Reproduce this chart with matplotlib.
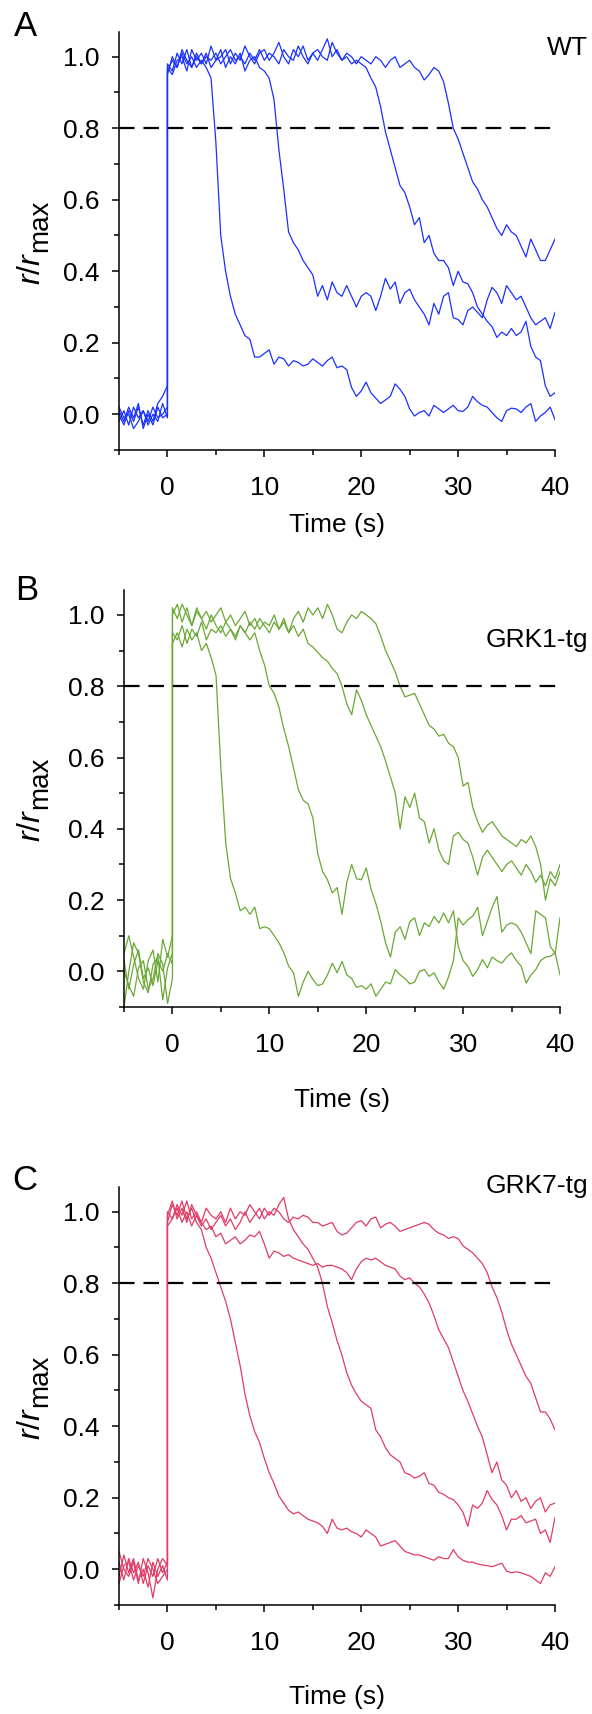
import numpy as np
import matplotlib
matplotlib.use("Agg")
import matplotlib.pyplot as plt
from matplotlib.ticker import MultipleLocator, FormatStrFormatter

plt.rcParams['font.family'] = ['Liberation Sans', 'DejaVu Sans']
plt.rcParams['mathtext.fontset'] = 'custom'
plt.rcParams['mathtext.rm'] = 'Liberation Sans'
plt.rcParams['mathtext.it'] = 'Liberation Sans:italic'

# sample times (s): baseline before the flash, response after it
t_pre = np.arange(-5, 0.01, 0.5)
t_post = np.arange(0, 40.01, 0.5)

# ---- panel A, WT (blue) ----
wt_pre = [
    [.01, -.02, .02, -.01, .03, -.04, .00, -.03, .02, -.01, .00],
    [-.02, .01, -.03, .02, -.01, .01, -.03, .00, -.02, .03, -.01],
    [.00, -.03, .01, -.02, .02, -.03, .01, -.02, .03, .05, .08],
    [.02, -.01, .00, -.04, -.02, .01, -.02, .02, -.01, .00, .02],
]
wt_1 = [.96, .99, .97, 1.01, .98, 1.00, .97, .99, .97, .94,
        .76, .50, .40, .33, .28, .25, .22, .21, .16, .16,
        .17, .18, .14, .16, .155, .135, .15, .145, .135, .14,
        .155, .145, .135, .15, .16, .13, .135, .125, .075, .05,
        .065, .09, .06, .045, .03, .04, .05, .085, .07, .05,
        .015, -.005, .005, .01, -.005, .025, .015, .005, .015, .025,
        .01, .008, .02, .05, .035, .025, .02, .005, -.01, -.02,
        .01, .017, .015, .005, .02, .03, -.02, -.005, .005, .02,
        -.015]
wt_2 = [.98, .96, 1.01, .98, 1.02, .97, 1.00, .98, 1.01, .97,
        .99, 1.02, .97, 1.00, .98, 1.01, .96, .99, 1.00, .97,
        .96, .94, .88, .74, .63, .51, .48, .46, .43, .41,
        .39, .33, .36, .32, .37, .34, .33, .36, .33, .30,
        .33, .34, .33, .29, .33, .38, .35, .37, .31, .34,
        .35, .32, .30, .28, .25, .31, .28, .33, .34, .27,
        .265, .25, .29, .30, .285, .27, .32, .355, .34, .31,
        .36, .34, .32, .33, .30, .27, .25, .26, .27, .24,
        .285]
wt_3 = [.95, 1.00, .97, 1.02, .99, .97, 1.01, .98, 1.00, .99,
        1.01, .98, 1.00, 1.02, .99, 1.00, .98, 1.01, .99, 1.02,
        .99, 1.01, 1.00, .98, 1.02, 1.00, .99, 1.03, 1.00, .98,
        1.01, 1.02, 1.00, .99, 1.04, 1.01, .99, 1.00, .98, .99,
        .98, .97, .94, .915, .86, .79, .74, .69, .64, .62,
        .58, .53, .55, .48, .50, .45, .43, .43, .41, .36,
        .40, .37, .365, .34, .30, .28, .26, .245, .215, .23,
        .22, .24, .22, .23, .26, .19, .16, .15, .08, .05,
        .06]
wt_4 = [.97, .95, .99, 1.00, .96, 1.02, .99, 1.01, .98, 1.03,
        .99, 1.00, 1.02, .98, 1.01, .99, 1.03, 1.00, .98, 1.01,
        1.02, .99, 1.01, 1.04, 1.00, .98, 1.02, 1.00, 1.03, .99,
        1.01, .99, 1.02, 1.05, 1.00, 1.02, .99, 1.01, 1.00, .98,
        1.00, .99, .98, 1.00, .99, .97, .99, 1.00, .97, .98,
        .99, .97, .96, .935, .95, .97, .96, .93, .87, .80,
        .77, .73, .69, .65, .63, .60, .58, .55, .52, .50,
        .53, .51, .50, .47, .44, .49, .46, .43, .43, .46,
        .49]

# ---- panel B, GRK1-tg (green) ----
grk1_pre = [
    [.03, -.05, .02, .06, -.02, .01, -.04, .03, .00, .05, .02],
    [-.10, .00, .08, .05, -.03, -.06, .02, .04, -.08, .01, .05],
    [.05, .10, .04, -.02, -.05, .03, .06, -.03, .09, .04, .10],
    [.00, -.04, -.07, .01, .03, -.05, -.02, .05, .02, -.09, -.02],
]
grk1_1 = [.92, .95, .91, .96, .93, .95, .90, .92, .88, .83,
          .57, .36, .26, .22, .17, .18, .16, .18, .12, .125,
          .12, .10, .08, .052, .014, -.004, -.07, -.03, .00, -.023,
          -.04, -.035, -.01, .023, -.004, .028, -.01, -.02, -.045, -.04,
          -.05, -.035, -.07, -.05, -.03, -.035, .005, -.01, -.02, -.035,
          -.03, .00, .005, -.014, -.004, -.03, -.05, -.015, .03, .15,
          .13, .145, .155, .18, .10, .14, .18, .21, .11, .13,
          .136, .13, .11, .08, .05, .17, .16, .15, .07, .05,
          .15]
grk1_2 = [.95, .93, .97, .92, .96, .94, .98, .93, .96, .95,
          .97, .94, .96, .93, .97, .95, .93, .95, .90, .86,
          .80, .78, .74, .68, .63, .57, .51, .48, .47, .43,
          .33, .28, .257, .22, .235, .16, .25, .30, .26, .257,
          .29, .23, .19, .14, .08, .04, .11, .125, .09, .14,
          .15, .10, .136, .126, .154, .136, .164, .136, .17, .07,
          .03, .014, -.014, .005, .033, .01, .04, .03, .023, .04,
          .052, .03, .014, -.033, -.01, .005, .03, .04, .042, .052,
          -.01]
grk1_3 = [1.00, 1.03, .98, 1.02, .97, 1.01, .99, .96, 1.00, .97,
          .95, .98, .96, .94, .97, .95, .98, .96, .99, .97,
          .95, .98, .96, .99, .95, .97, .94, .96, .92, .91,
          .895, .88, .87, .85, .835, .80, .75, .72, .79, .76,
          .72, .69, .66, .63, .59, .545, .50, .40, .49, .46,
          .50, .43, .42, .36, .40, .34, .31, .30, .38, .39,
          .37, .36, .32, .27, .32, .34, .32, .30, .28, .30,
          .31, .29, .27, .30, .28, .25, .27, .24, .28, .26,
          .30]
grk1_4 = [1.02, .99, 1.03, 1.00, .97, 1.02, .99, 1.01, .98, 1.00,
          1.02, .98, 1.00, .97, .99, 1.01, .97, .99, .96, .98,
          .97, 1.00, .96, .98, .95, .99, 1.01, .98, 1.02, 1.00,
          1.02, .99, 1.03, 1.00, .96, .95, .98, 1.00, .99, 1.01,
          1.00, .99, .975, .94, .90, .87, .84, .80, .77, .775,
          .78, .75, .72, .69, .68, .66, .665, .64, .63, .60,
          .52, .53, .46, .42, .39, .41, .42, .40, .38, .37,
          .36, .35, .37, .36, .38, .35, .30, .20, .26, .24,
          .28]

# ---- panel C, GRK7-tg (red) ----
grk7_pre = [
    [.02, -.03, .03, -.01, .02, -.04, .01, -.02, .03, -.01, .02],
    [-.02, .04, -.01, .03, -.03, .00, -.05, .02, -.02, .01, -.03],
    [.05, .00, -.02, .02, -.04, .03, -.01, -.08, .00, .03, .01],
    [-.04, .01, .02, -.03, .01, -.02, .03, .00, -.04, -.02, .00],
]
grk7_1 = [.97, 1.02, .99, 1.03, .98, 1.01, .97, .95, .90, .87,
          .83, .79, .75, .70, .635, .57, .49, .43, .385, .355,
          .31, .27, .24, .205, .185, .165, .155, .16, .15, .14,
          .135, .13, .12, .10, .14, .115, .11, .115, .105, .10,
          .09, .11, .10, .09, .065, .07, .075, .08, .065, .05,
          .045, .04, .04, .035, .03, .025, .035, .03, .03, .055,
          .035, .025, .02, .02, .015, .012, .01, .007, .012, .017,
          -.005, -.01, -.007, -.01, -.015, -.02, -.03, -.04, -.01, -.02,
          .007]
grk7_2 = [.99, 1.03, .98, 1.01, .97, 1.02, .99, .96, .98, .95,
          .97, .99, .96, .98, .95, .97, 1.00, .97, .99, 1.01,
          .98, 1.00, .99, 1.02, 1.04, .98, .95, .93, .91, .895,
          .87, .845, .80, .735, .69, .64, .60, .55, .515, .49,
          .47, .46, .45, .39, .37, .34, .32, .31, .30, .27,
          .265, .255, .26, .27, .24, .235, .215, .21, .20, .195,
          .18, .16, .12, .18, .17, .185, .22, .195, .18, .15,
          .11, .14, .14, .15, .13, .135, .14, .10, .11, .075,
          .145]
grk7_3 = [.96, .98, 1.01, .97, 1.00, .96, .99, .97, .95, .96,
          .93, .94, .91, .92, .93, .91, .92, .935, .93, .945,
          .91, .87, .89, .885, .875, .88, .87, .865, .86, .855,
          .85, .855, .845, .85, .85, .845, .84, .83, .81, .84,
          .86, .87, .865, .87, .86, .85, .845, .84, .82, .81,
          .815, .80, .79, .77, .745, .71, .67, .645, .62, .58,
          .54, .50, .47, .435, .40, .37, .32, .27, .30, .25,
          .235, .20, .22, .19, .20, .17, .19, .20, .16, .18,
          .185]
grk7_4 = [1.00, .98, 1.02, .99, 1.03, .98, 1.00, .97, 1.01, .99,
          .98, 1.00, .97, 1.01, .98, 1.00, .99, 1.02, 1.00, .98,
          1.01, .99, 1.01, 1.00, .98, .97, .985, .98, .99, .985,
          .97, .97, .96, .965, .97, .945, .935, .94, .955, .97,
          .975, .96, .98, .985, .955, .965, .97, .96, .945, .95,
          .955, .96, .965, .97, .965, .95, .94, .935, .925, .93,
          .925, .905, .895, .885, .87, .855, .83, .79, .76, .72,
          .67, .63, .60, .57, .54, .52, .48, .44, .44, .42,
          .39]

W, H = 592, 1714
fig = plt.figure(figsize=(W / 100, H / 100), dpi=100)
renderer = fig.canvas.get_renderer()


def add_axes_px(x0, y0, x1, y1):
    return fig.add_axes([x0 / W, 1 - y1 / H, (x1 - x0) / W, (y1 - y0) / H])


def ylabel_px(y_center):
    # r/r_max drawn in two pieces so the subscript stays almost full size
    kw = dict(rotation=90, rotation_mode='anchor', ha='left', va='baseline')
    t1 = fig.text(40 / W, 0, r'$r/r$', fontsize=23, **kw)
    t2 = fig.text(47 / W, 0, 'max', fontsize=20, **kw)
    l1 = t1.get_window_extent(renderer).height
    l2 = t2.get_window_extent(renderer).height
    y0 = (H - y_center) - (l1 + l2) / 2
    t1.set_y(y0 / H)
    t2.set_y((y0 + l1) / H)


def draw_panel(ax, pre, post, color, xlab_y):
    for base, resp in zip(pre, post):
        ax.plot(np.concatenate([t_pre, t_post]), np.concatenate([base, resp]),
                color=color, lw=0.9, zorder=2)
    ax.axhline(0.8, color='black', lw=1.6, dashes=(7, 4), zorder=3)
    ax.set_xlim(-5, 40)
    ax.set_ylim(-0.1, 1.07)
    ax.xaxis.set_major_locator(MultipleLocator(10))
    ax.xaxis.set_minor_locator(MultipleLocator(5))
    ax.yaxis.set_major_locator(MultipleLocator(0.2))
    ax.yaxis.set_minor_locator(MultipleLocator(0.1))
    ax.yaxis.set_major_formatter(FormatStrFormatter('%.1f'))
    for side in ['top', 'right']:
        ax.spines[side].set_visible(False)
    for side in ['left', 'bottom']:
        ax.spines[side].set_linewidth(1.1)
    ax.tick_params(which='major', direction='out', length=5, width=1.1, labelsize=19)
    ax.tick_params(which='minor', direction='out', length=3.5, width=1.1)
    ax.tick_params(axis='x', which='major', pad=14)
    ax.tick_params(axis='y', which='major', pad=9)
    ax.set_xlabel('Time (s)', fontsize=19)
    ax.xaxis.set_label_coords(0.5, xlab_y)


axA = add_axes_px(119, 31.7, 555, 450)
draw_panel(axA, wt_pre, [wt_1, wt_2, wt_3, wt_4], '#1a30ff', -0.15)
ylabel_px(242)

axB = add_axes_px(124, 590, 560, 1007)
draw_panel(axB, grk1_pre, [grk1_1, grk1_2, grk1_3, grk1_4], '#6aa834', -0.194)
ylabel_px(799)

axC = add_axes_px(119, 1186.7, 555, 1605)
draw_panel(axC, grk7_pre, [grk7_1, grk7_2, grk7_3, grk7_4], '#e03c66', -0.191)
ylabel_px(1397)

# panel letters and genotype labels
fig.text(25.5 / W, 1 - 26 / H, 'A', fontsize=25, ha='center', va='center')
fig.text(27 / W, 1 - 591 / H, 'B', fontsize=25, ha='center', va='center')
fig.text(25 / W, 1 - 1180.5 / H, 'C', fontsize=25, ha='center', va='center')
fig.text(588 / W, 1 - 55 / H, 'WT', fontsize=19, ha='right', va='baseline')
fig.text(588 / W, 1 - 647 / H, 'GRK1-tg', fontsize=19, ha='right', va='baseline')
fig.text(588 / W, 1 - 1193 / H, 'GRK7-tg', fontsize=19, ha='right', va='baseline')

fig.savefig('out.png', dpi=100)
